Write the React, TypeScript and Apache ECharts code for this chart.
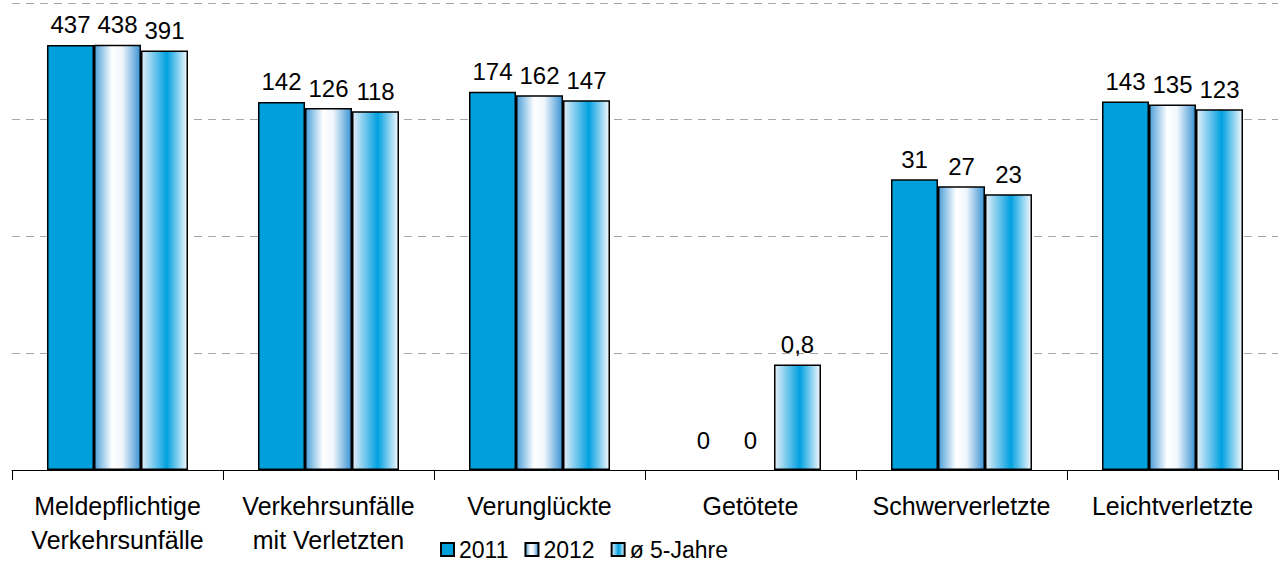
import React, { useEffect, useRef } from "react";
import * as echarts from "echarts";

const categories = [
  "Meldepflichtige\nVerkehrsunfälle",
  "Verkehrsunfälle\nmit Verletzten",
  "Verunglückte",
  "Getötete",
  "Schwerverletzte",
  "Leichtverletzte",
];
const values2011 = [437, 142, 174, 0, 31, 143];
const values2012 = [438, 126, 162, 0, 27, 135];
const valuesAvg = [391, 118, 147, 0.8, 23, 123];
const seriesNames = ["2011", "2012", "ø 5-Jahre"];

const AXIS_MIN = 0.1;
const FONT = "'Liberation Sans', Arial, sans-serif";

const fmt = (v: number) => String(v).replace(".", ",");

function makeSeries(name: string, vals: number[], color: any) {
  return {
    name,
    type: "bar",
    barWidth: 47,
    barGap: "0%",
    itemStyle: { color, borderColor: "#000", borderWidth: 1.5 },
    label: {
      show: true,
      position: "top",
      distance: 8,
      color: "#000",
      fontFamily: FONT,
      fontSize: 24,
    },
    data: vals.map((v) =>
      v > 0
        ? { value: v, label: { formatter: fmt(v) } }
        : {
            value: AXIS_MIN,
            itemStyle: { color: "rgba(0,0,0,0)", borderWidth: 0 },
            label: { formatter: fmt(v), distance: 18 },
          }
    ),
  };
}

export default function App() {
  const ref = useRef<HTMLDivElement>(null);
  useEffect(() => {
    if (!ref.current) return;
    const chart = echarts.init(ref.current, null, { renderer: "svg" });
    const c2011 = "#00a0dc";
    const c2012 = new echarts.graphic.LinearGradient(0, 0, 1, 0, [
      { offset: 0, color: "#4c9fd9" },
      { offset: 0.38, color: "#ffffff" },
      { offset: 0.6, color: "#f2f7fc" },
      { offset: 1, color: "#3b93d4" },
    ]);
    const cAvg = new echarts.graphic.LinearGradient(0, 0, 1, 0, [
      { offset: 0, color: "#e4eff9" },
      { offset: 0.55, color: "#00a0e0" },
      { offset: 1, color: "#f4f8fc" },
    ]);
    chart.setOption({
      animation: false,
      grid: { left: 12, right: 3, top: 3, bottom: 94, containLabel: false },
      legend: {
        left: 440,
        top: 538,
        itemWidth: 13,
        itemHeight: 13,
        itemGap: 16,
        padding: 0,
        icon: "rect",
        textStyle: { fontFamily: FONT, fontSize: 23, lineHeight: 23, color: "#000" },
        data: seriesNames,
      },
      xAxis: {
        type: "category",
        data: categories,
        axisLine: { lineStyle: { color: "#000", width: 1 } },
        axisTick: { show: true, length: 10, lineStyle: { color: "#000" } },
        axisLabel: {
          color: "#000",
          fontFamily: FONT,
          fontSize: 25,
          lineHeight: 34,
          margin: 19,
          interval: 0,
        },
      },
      yAxis: {
        type: "log",
        logBase: 10,
        min: AXIS_MIN,
        max: 1000,
        startValue: AXIS_MIN,
        axisLabel: { show: false },
        axisLine: { show: false },
        axisTick: { show: false },
        splitLine: {
          show: true,
          lineStyle: { color: "#a8a8a8", type: [8, 6], width: 1 },
        },
      },
      series: [
        makeSeries(seriesNames[0], values2011, c2011),
        makeSeries(seriesNames[1], values2012, c2012),
        makeSeries(seriesNames[2], valuesAvg, cAvg),
      ],
    });
    return () => chart.dispose();
  }, []);
  return <div ref={ref} style={{ width: 1281, height: 564, position: "absolute", left: 0, top: 0 }} />;
}
